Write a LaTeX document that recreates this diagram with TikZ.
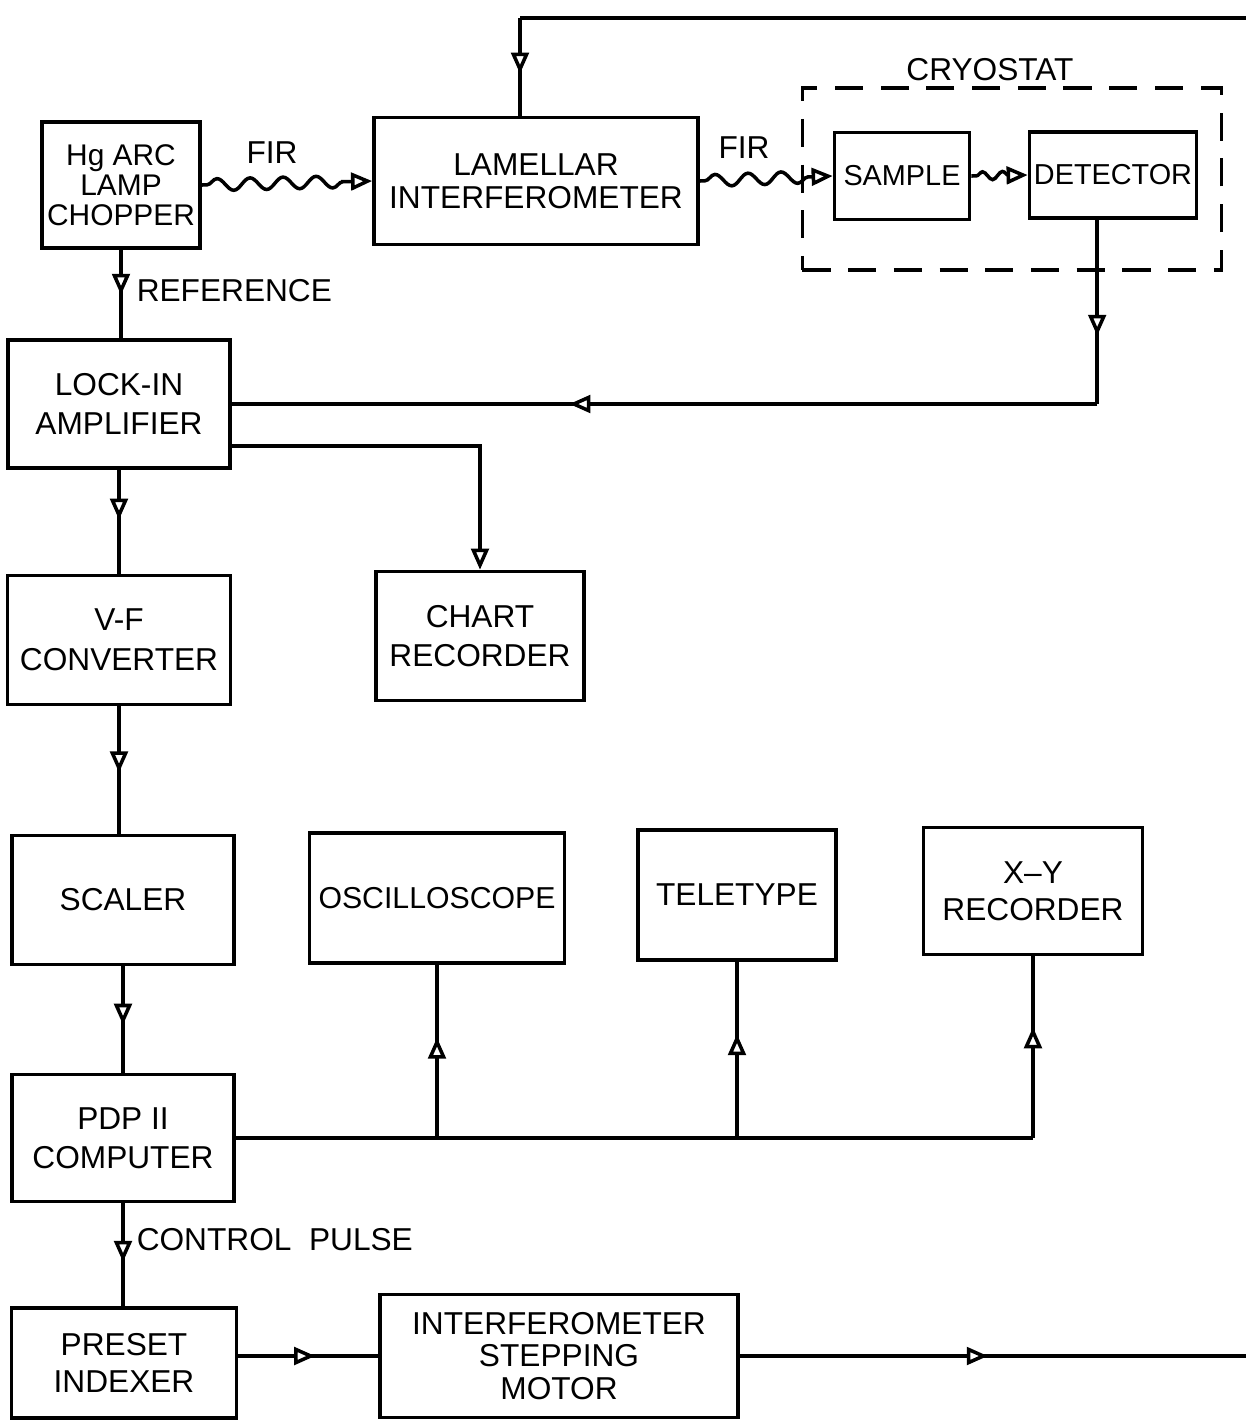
\documentclass[tikz,border=0pt]{standalone}
\usepackage{fontspec}
\setmainfont{Liberation Sans}
\usepackage{tikz}
\usetikzlibrary{arrows.meta,calc,decorations.pathmorphing,decorations.markings}

\tikzset{
  blk/.style={draw, line width=1pt, inner sep=0pt, align=center, font=\fontsize{9}{11}\selectfont},
  lbl/.style={inner sep=0pt, font=\fontsize{9}{11}\selectfont},
  endarr/.style={-{Triangle[fill=white, length=6pt, width=5pt]}},
  midarr/.style={postaction={decorate}, decoration={markings,
      mark=at position #1 with {\arrow{Triangle[fill=white, length=6pt, width=5pt]}}}},
  midarr/.default=0.5,
  wave/.style={decorate, decoration={snake, amplitude=0.6mm, segment length=3.3mm,
      pre length=0.5mm, post length=2mm}, endarr},
}

\begin{document}
\begin{tikzpicture}[x=0.01cm, y=-0.01cm, line width=1pt]
  \useasboundingbox (0,0) rectangle (1246,1420);

  % source, interferometer, cryostat
  \node[blk, minimum width=1.58cm, minimum height=1.26cm, font=\fontsize{8.5}{8.6}\selectfont] (hg) at (121,185) {Hg ARC\\LAMP\\CHOPPER};
  \node[blk, minimum width=3.24cm, minimum height=1.27cm, font=\fontsize{9}{9.5}\selectfont] (lam) at (536,181) {LAMELLAR\\INTERFEROMETER};
  \node[draw, line width=1pt, dash pattern=on 8pt off 5pt, minimum width=4.19cm, minimum height=1.82cm, inner sep=0pt] (cryo) at (1012,179) {};
  \node[lbl] (cryolbl) at (990,70) {CRYOSTAT};
  \node[blk, minimum width=1.35cm, minimum height=0.87cm, font=\fontsize{8.2}{10}\selectfont] (samp) at (902,176) {SAMPLE};
  \node[blk, minimum width=1.67cm, minimum height=0.86cm, font=\fontsize{8.2}{10}\selectfont] (det) at (1113,175) {DETECTOR};

  \draw[wave] (hg.east) -- (lam.west);
  \node[lbl] (fir1) at (272,153) {FIR};
  \draw[wave] (lam.east) -- (samp.west);
  \node[lbl] (fir2) at (744,148) {FIR};
  \draw[wave, decoration={segment length=2mm, amplitude=0.4mm, post length=1.8mm}] (samp.east) -- (det.west);

  % signal chain
  \node[blk, minimum width=2.22cm, minimum height=1.28cm] (lock) at (119,404) {LOCK-IN\\AMPLIFIER};
  \node[blk, minimum width=2.23cm, minimum height=1.29cm, font=\fontsize{9}{11.5}\selectfont] (vf) at (119,640) {V-F\\CONVERTER};
  \node[blk, minimum width=2.08cm, minimum height=1.29cm, font=\fontsize{9}{11.2}\selectfont] (chart) at (480,636) {CHART\\RECORDER};
  \node[blk, minimum width=2.22cm, minimum height=1.29cm] (scal) at (123,900) {SCALER};
  \node[blk, minimum width=2.55cm, minimum height=1.30cm, font=\fontsize{8.6}{11}\selectfont] (osc) at (437,898) {OSCILLOSCOPE};
  \node[blk, minimum width=1.98cm, minimum height=1.30cm] (tele) at (737,895) {TELETYPE};
  \node[blk, minimum width=2.19cm, minimum height=1.27cm, font=\fontsize{9}{10.6}\selectfont] (xy) at (1033,891) {X--Y\\RECORDER};
  \node[blk, minimum width=2.22cm, minimum height=1.27cm] (pdp) at (123,1138) {PDP II\\COMPUTER};
  \node[blk, minimum width=2.25cm, minimum height=1.10cm, font=\fontsize{9}{10.6}\selectfont] (pre) at (124,1363) {PRESET\\INDEXER};
  \node[blk, minimum width=3.58cm, minimum height=1.23cm, font=\fontsize{9}{9.2}\selectfont] (mot) at (559,1356) {INTERFEROMETER\\STEPPING\\MOTOR};

  \draw[midarr=0.51] (hg.south) -- (hg.south |- lock.north);
  \node[lbl, anchor=west] (reflbl) at (135,291) {REFERENCE};

  \coordinate (detout) at ([xshift=-4.5pt]det.south);
  \coordinate (detdn) at (detout |- lock.east);
  \draw[midarr=0.63] (detout) -- (detdn);
  \draw[midarr=0.61] (detdn) -- (lock.east);

  \draw[endarr] (lock.east) ++(0,42) -| (chart.north);
  \draw[midarr=0.48] (lock.south) -- (lock.south |- vf.north);
  \draw[midarr=0.52] (vf.south) -- (vf.south |- scal.north);
  \draw[midarr=0.55] (scal.south) -- (scal.south |- pdp.north);

  % computer outputs
  \coordinate (xyjn) at (xy.south |- pdp.east);
  \draw (pdp.east) -- (xyjn);
  \draw[midarr=0.58] (osc.south |- pdp.east) -- (osc.south);
  \draw[midarr=0.59] (tele.south |- pdp.east) -- (tele.south);
  \draw[midarr=0.61] (xyjn) -- (xy.south);

  \draw[midarr=0.57] (pdp.south) -- (pdp.south |- pre.north);
  \node[lbl, anchor=west] (ctllbl) at (135,1240) {CONTROL\ \ PULSE};

  \draw[midarr=0.55] (pre.east |- mot.west) -- (mot.west);

  % drive back to the interferometer
  \coordinate (motR) at (1246,1356);
  \draw[midarr=0.49] (mot.east) -- (motR);
  \coordinate (loopR) at (1246,18);
  \coordinate (loopL) at (520,18);
  \draw (loopR) -- (loopL);
  \draw[midarr=0.57] (loopL) -- (loopL |- lam.north);
\end{tikzpicture}
\end{document}
